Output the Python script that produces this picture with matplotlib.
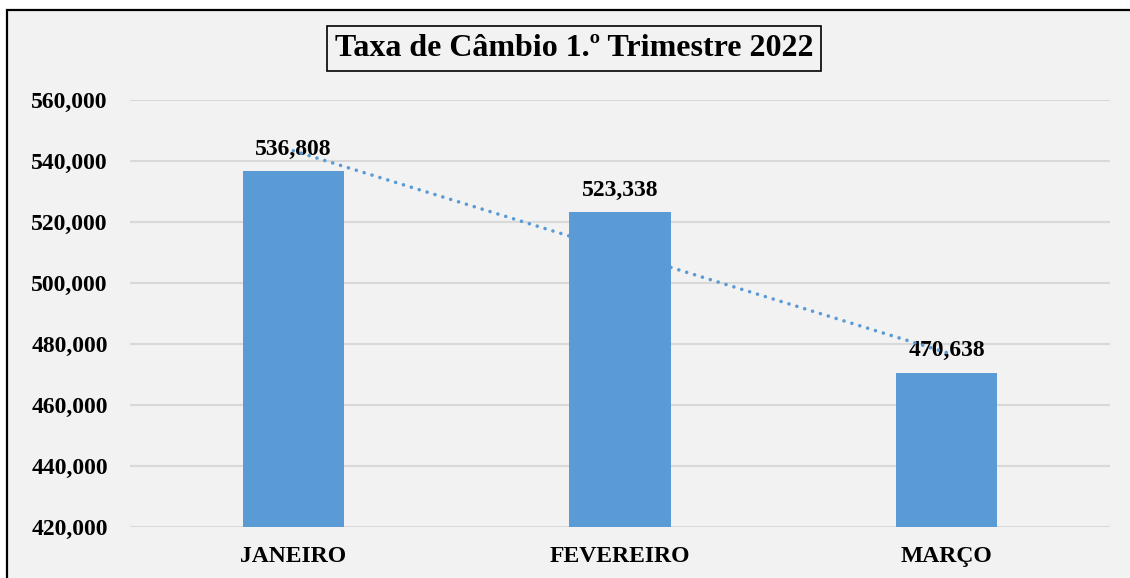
import numpy as np
import matplotlib
matplotlib.use("Agg")
import matplotlib.pyplot as plt
from matplotlib.patches import Rectangle
from matplotlib.ticker import FuncFormatter

# Dados (valores em milhares)
meses = ["JANEIRO", "FEVEREIRO", "MARÇO"]
taxas = [536.808, 523.338, 470.638]
rotulos = ["536,808", "523,338", "470,638"]
y_ticks = [420, 440, 460, 480, 500, 520, 540, 560]

azul = "#5B9BD5"
fundo = "#F2F2F2"
grade = "#D9D9D9"

plt.rcParams["font.family"] = ["Liberation Serif", "DejaVu Serif"]
plt.rcParams["font.weight"] = "bold"

W, H = 1130, 578
fig = plt.figure(figsize=(W / 100, H / 100), dpi=100, facecolor="white")

# moldura do gráfico (cortada à direita e em baixo)
fig.patches.append(Rectangle((7 / W, -0.1), 1.2, 1.1 - 10 / H,
                             transform=fig.transFigure, facecolor=fundo,
                             edgecolor="black", linewidth=1.6, zorder=0))

ax = fig.add_axes([130 / W, 1 - 527 / H, 980 / W, 427 / H])
ax.set_zorder(2)
ax.set_facecolor(fundo)

x = np.arange(len(meses))
ax.bar(x, taxas, width=0.31, color=azul, zorder=2)

for xi, v, lab in zip(x, taxas, rotulos):
    ax.annotate(lab, (xi, v), xytext=(0, 8), textcoords="offset points",
                ha="center", va="bottom", fontsize=17, fontweight="bold",
                color="black", zorder=3)

# linha de tendência linear
coef = np.polyfit(x, taxas, 1)
ax.plot(x, np.polyval(coef, x), color=azul, linewidth=2.6,
        linestyle=(0, (0.01, 2.27)), dash_capstyle="round", zorder=4)

ax.set_xlim(-0.5, 2.5)
ax.set_ylim(420, 560)
ax.set_yticks(y_ticks)
ax.yaxis.set_major_formatter(FuncFormatter(lambda v, p: f"{int(v)},000"))
ax.set_xticks(x)
ax.set_xticklabels(meses)
ax.tick_params(axis="y", length=0, pad=16, labelsize=17)
ax.tick_params(axis="x", length=0, pad=14, labelsize=17)
ax.grid(axis="y", color=grade, linewidth=1.5, zorder=1)
ax.set_axisbelow(True)
for s in ax.spines.values():
    s.set_visible(False)

titulo = fig.text(574 / W, 1 - 56 / H, "Taxa de Câmbio 1.º Trimestre 2022",
                  ha="center", va="baseline", fontsize=23, fontweight="bold",
                  bbox=dict(boxstyle="square,pad=0.25", facecolor=fundo,
                            edgecolor="black", linewidth=1.2))
titulo.set_zorder(3)

fig.savefig("out.png", dpi=100, facecolor=fig.get_facecolor())
